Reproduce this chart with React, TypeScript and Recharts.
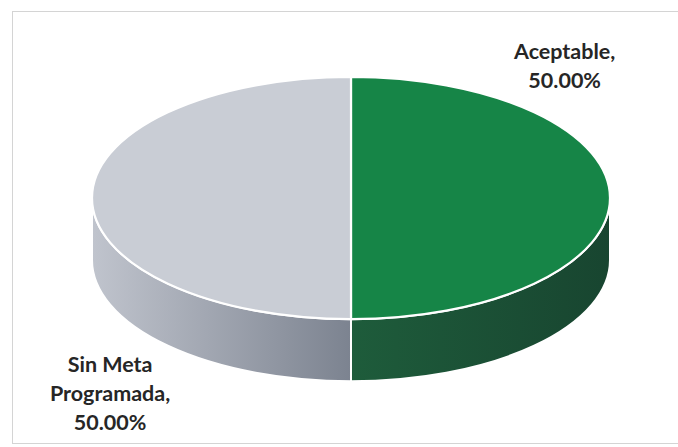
import React from "react";
import { PieChart, Pie } from "recharts";

const categories = ["Aceptable", "Sin Meta Programada"];
const values = [50, 50];
const labelLines = [["Aceptable,", "50.00%"], ["Sin Meta", "Programada,", "50.00%"]];

const data = categories.map((name, i) => ({ name, value: values[i], lines: labelLines[i] }));

const TOP_COLORS: Record<string, string> = {
  "Aceptable": "#168547",
  "Sin Meta Programada": "#c9cdd5",
};
const SIDE_GRAD: Record<string, [string, string]> = {
  "Aceptable": ["#1e5c3b", "#184530"],
  "Sin Meta Programada": ["#c0c4cd", "#7c8390"],
};

const W = 678;
const H = 447;
const CX = 351;
const CY = 198;
const R = 259;
const TILT = 0.468;
const DEPTH = 62;

const ept = (cx: number, cy: number, rx: number, ry: number, a: number) => {
  const r = (a * Math.PI) / 180;
  return [cx + rx * Math.cos(r), cy - ry * Math.sin(r)];
};

const Slice3D = (props: any) => {
  const { cx, cy, outerRadius, startAngle, endAngle, payload } = props;
  const name = payload?.name ?? props.name;
  const rx = outerRadius;
  const ry = outerRadius * TILT;
  const hiA = Math.max(startAngle, endAngle);
  const loA = Math.min(startAngle, endAngle);
  const [sx, sy] = ept(cx, cy, rx, ry, hiA);
  const [ex, ey] = ept(cx, cy, rx, ry, loA);
  const large = hiA - loA > 180 ? 1 : 0;
  const top = `M${cx},${cy} L${sx},${sy} A${rx},${ry} 0 ${large} 1 ${ex},${ey} Z`;

  const lo = Math.max(loA, -180);
  const hi = Math.min(hiA, 0);
  let side: string | null = null;
  if (hi > lo) {
    const [ax, ay] = ept(cx, cy, rx, ry, hi);
    const [bx, by] = ept(cx, cy, rx, ry, lo);
    side = `M${ax},${ay} A${rx},${ry} 0 0 1 ${bx},${by} L${bx},${by + DEPTH} A${rx},${ry} 0 0 0 ${ax},${ay + DEPTH} Z`;
  }
  const gid = `side-${name.replace(/\s+/g, "-")}`;
  const [g1, g2] = SIDE_GRAD[name];
  return (
    <g>
      <defs>
        <linearGradient id={gid} x1="0" y1="0" x2="1" y2="0">
          <stop offset="0%" stopColor={g1} />
          <stop offset="100%" stopColor={g2} />
        </linearGradient>
      </defs>
      {side && <path d={side} fill={`url(#${gid})`} stroke="#ffffff" strokeWidth={2} strokeLinejoin="round" />}
      <path d={top} fill={TOP_COLORS[name]} stroke="#ffffff" strokeWidth={2.2} strokeLinejoin="round" />
    </g>
  );
};

const FONT = "Lato, 'Noto Sans', sans-serif";

const renderLabel = (props: any) => {
  const { cx, cy, outerRadius, midAngle, payload } = props;
  const lines: string[] = payload?.lines ?? [];
  const right = Math.cos((midAngle * Math.PI) / 180) > 0;
  const x = right ? cx + outerRadius * 0.825 : cx - outerRadius * 0.93;
  const y0 = right ? cy - outerRadius * 0.535 : cy + outerRadius * 0.672;
  return (
    <text
      x={x}
      y={y0}
      textAnchor="middle"
      fontFamily={FONT}
      fontWeight={700}
      fontSize={21.5}
      fill="#262626"
    >
      {lines.map((l, i) => (
        <tspan key={i} x={x} y={y0 + i * 29}>
          {l}
        </tspan>
      ))}
    </text>
  );
};

export default function App() {
  return (
    <div style={{ position: "absolute", left: 0, top: 0, width: W, height: H, background: "#ffffff" }}>
      <svg width={W} height={H} style={{ position: "absolute", left: 0, top: 0 }}>
        <rect x={12.5} y={11.5} width={W + 10} height={432} fill="none" stroke="#d4d4d4" strokeWidth={1} />
      </svg>
      <div style={{ position: "absolute", left: 0, top: 0 }}>
        <PieChart width={W} height={H} margin={{ top: 0, right: 0, bottom: 0, left: 0 }}>
          <Pie
            data={data}
            dataKey="value"
            nameKey="name"
            cx={CX}
            cy={CY}
            innerRadius={0}
            outerRadius={R}
            startAngle={90}
            endAngle={-270}
            isAnimationActive={false}
            shape={Slice3D}
            activeShape={Slice3D}
            inactiveShape={Slice3D}
            label={renderLabel}
            labelLine={false}
            stroke="none"
          />
        </PieChart>
      </div>
    </div>
  );
}
